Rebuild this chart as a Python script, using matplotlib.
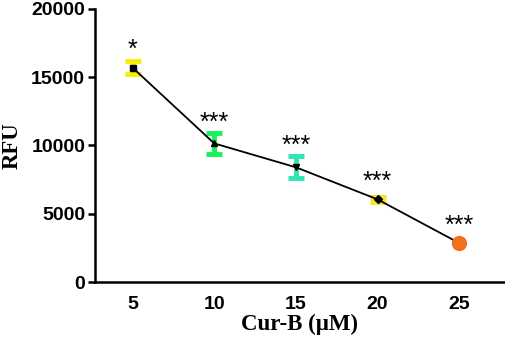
import matplotlib
matplotlib.use("Agg")
import matplotlib.pyplot as plt

# data
conc = [5, 10, 15, 20, 25]
rfu = [15700, 10150, 8400, 6050, 2850]
rfu_err = [450, 750, 800, 200, 0]
stars = ["*", "***", "***", "***", "***"]
markers = ["s", "^", "v", "D", "o"]
err_colors = ["#f5f000", "#14f25c", "#2ee6b0", "#f5e62a", "#f07020"]

fig = plt.figure(figsize=(5.05, 3.41), dpi=100)
ax = fig.add_axes([0.188, 0.173, 0.812, 0.801])

ax.plot(conc, rfu, "-", color="black", lw=1.3, zorder=2)
for i in range(len(conc)):
    if rfu_err[i] > 0:
        ax.errorbar(conc[i], rfu[i], yerr=rfu_err[i], fmt="none",
                    ecolor=err_colors[i], elinewidth=3.5, capsize=6,
                    capthick=3.5, zorder=1)
        ax.plot(conc[i], rfu[i], marker=markers[i], color="black", ms=4.5,
                zorder=3)
    else:
        ax.plot(conc[i], rfu[i], marker="o", color=err_colors[i], ms=10,
                mec=err_colors[i], zorder=3)
    top = rfu[i] + max(rfu_err[i], 500)
    ax.text(conc[i], top - 100, stars[i], ha="center", va="bottom",
            fontsize=18, fontfamily="Liberation Sans")

ax.set_xlim(2.7, 27.8)
ax.set_ylim(0, 20000)
ax.set_yticks([0, 5000, 10000, 15000, 20000])
ax.set_xticks(conc)
ax.tick_params(axis="x", length=0, pad=10)
ax.tick_params(axis="y", length=5, width=1.8, direction="out", pad=2)
for lab in ax.get_xticklabels() + ax.get_yticklabels():
    lab.set_fontfamily("Liberation Sans")
    lab.set_fontweight("bold")
    lab.set_fontsize(14)

for s in ["top", "right"]:
    ax.spines[s].set_visible(False)
for s in ["left", "bottom"]:
    ax.spines[s].set_linewidth(1.8)

ax.set_ylabel("RFU", fontfamily="Liberation Serif", fontweight="bold",
              fontsize=16.5, labelpad=6)
ax.set_xlabel("Cur-B (\u03bcM)", fontfamily="Liberation Serif",
              fontweight="bold", fontsize=16.5, labelpad=1)

fig.savefig("out.png", dpi=100)
